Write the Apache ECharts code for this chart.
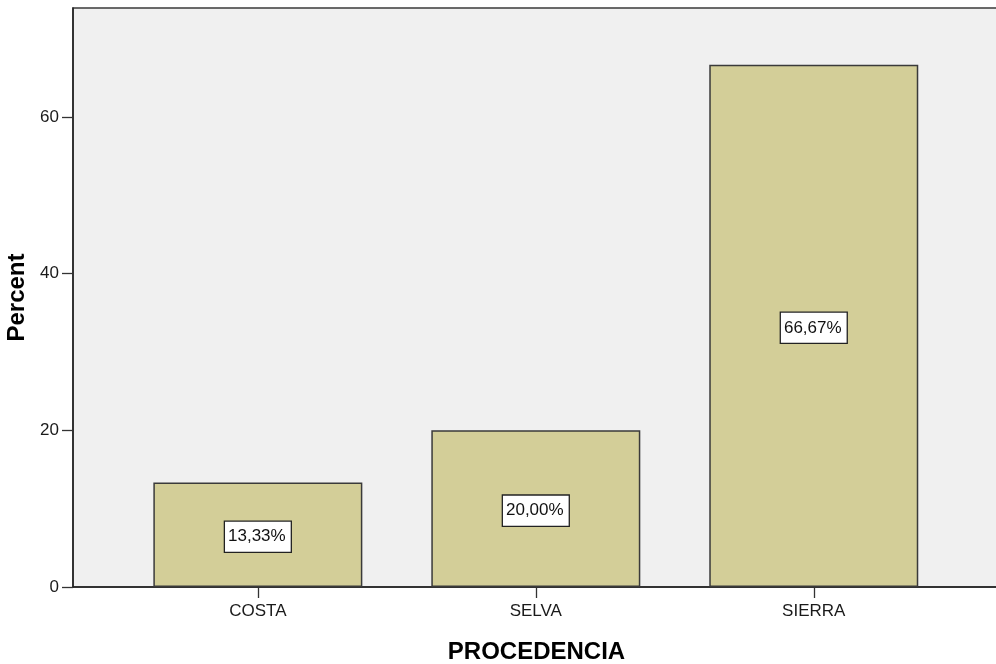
<!DOCTYPE html>
<html>
<head>
<meta charset="utf-8">
<script src="https://cdn.jsdelivr.net/npm/echarts@6/dist/echarts.min.js"></script>
<style>
html,body{margin:0;padding:0;background:#fff;}
#chart{width:996px;height:664px;}
</style>
</head>
<body>
<div id="chart"></div>
<script>
const categories = ['COSTA', 'SELVA', 'SIERRA'];
const percentValues = [13.33, 20.00, 66.67];
const yTickValues = [0, 20, 40, 60];
const xTickValues = [0, 1, 2];

const FONT = '"Liberation Sans", Arial, sans-serif';
const chart = echarts.init(document.getElementById('chart'), null, {renderer: 'canvas'});
chart.setOption({
  animation: false,
  backgroundColor: '#ffffff',
  grid: {
    left: 73, right: -4, top: 8, bottom: 77,
    outerBoundsMode: 'none',
    containLabel: false,
    show: true, backgroundColor: '#f0f0f0', borderColor: '#3a3a3a', borderWidth: 1.5
  },
  xAxis: {
    type: 'value',
    min: -0.665, max: 2.67,
    name: 'PROCEDENCIA',
    nameLocation: 'middle',
    nameGap: 53,
    nameTextStyle: {fontFamily: FONT, fontSize: 24, fontWeight: 'bold', color: '#000'},
    splitLine: {show: false},
    axisLine: {show: true, onZero: false, lineStyle: {color: '#222', width: 1.5}},
    axisTick: {show: true, length: 11, customValues: xTickValues, lineStyle: {color: '#333', width: 1.3}},
    axisLabel: {
      customValues: xTickValues,
      margin: 16,
      fontFamily: FONT, fontSize: 17, color: '#1a1a1a',
      formatter: v => categories[Math.round(v)] || ''
    }
  },
  yAxis: {
    type: 'value',
    min: 0, max: 73.9,
    name: 'Percent',
    nameLocation: 'middle',
    nameGap: 42,
    nameTextStyle: {fontFamily: FONT, fontSize: 24, fontWeight: 'bold', color: '#000'},
    splitLine: {show: false},
    axisLine: {show: true, onZero: false, lineStyle: {color: '#222', width: 1.5}},
    axisTick: {show: true, length: 11, customValues: yTickValues, lineStyle: {color: '#333', width: 1.3}},
    axisLabel: {
      customValues: yTickValues,
      margin: 14,
      fontFamily: FONT, fontSize: 17, color: '#1a1a1a'
    }
  },
  series: [{
    type: 'bar',
    data: percentValues.map((v, i) => [i, v]),
    barWidth: 209,
    itemStyle: {color: '#d3ce98', borderColor: '#3a3a3a', borderWidth: 1.5},
    label: {
      show: true,
      position: 'inside',
      offset: [0, 2],
      formatter: p => p.value[1].toFixed(2).replace('.', ',') + '%',
      fontFamily: FONT, fontSize: 17, color: '#111',
      backgroundColor: '#ffffff',
      borderColor: '#222', borderWidth: 1.3,
      padding: [7, 5, 6, 3]
    }
  }]
});
</script>
</body>
</html>
